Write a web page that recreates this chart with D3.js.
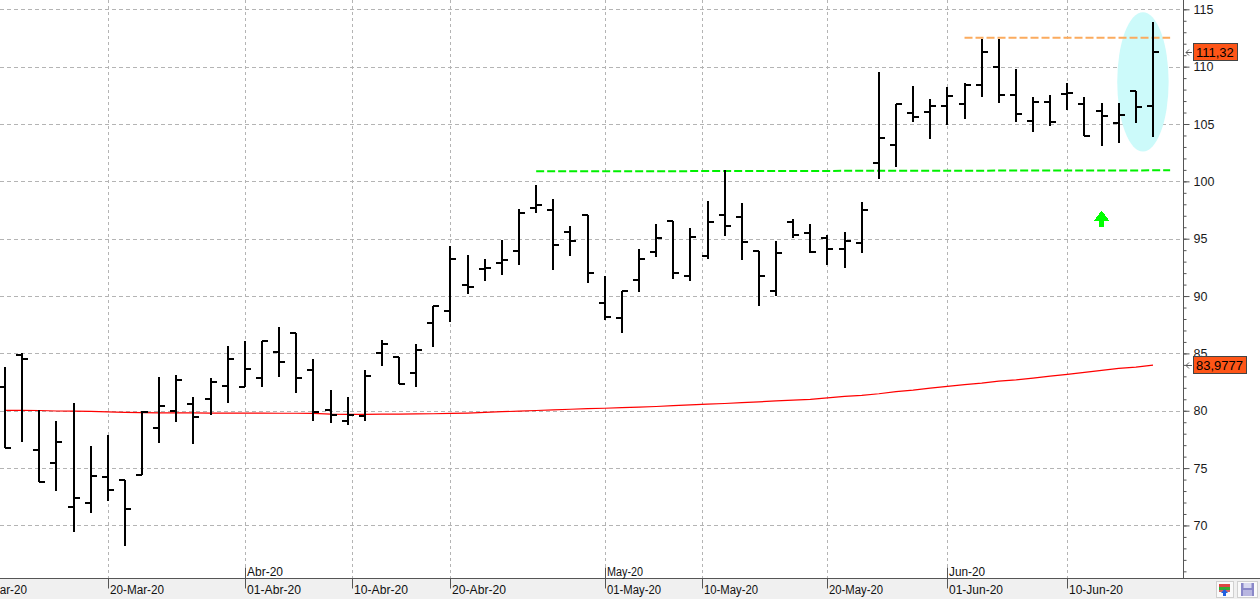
<!DOCTYPE html>
<html>
<head>
<meta charset="utf-8">
<script src="https://cdn.jsdelivr.net/npm/d3@7"></script>
<style>
  html, body { margin: 0; padding: 0; background: #fff; overflow: hidden; }
  svg { display: block; }
  text { font-family: "Liberation Sans", Arial, sans-serif; }
</style>
</head>
<body>
<div id="container"></div>
<script>
/* CONSTANTS AND GLOBALS */
const width = 1260,
      height = 599,
      axisX = 1183.5,   // price axis line
      axisY = 578.5;    // date axis line

/* DATA */
const dates = [
  "2020-03-12","2020-03-13","2020-03-16","2020-03-17","2020-03-18","2020-03-19","2020-03-20",
  "2020-03-23","2020-03-24","2020-03-25","2020-03-26","2020-03-27","2020-03-30","2020-03-31",
  "2020-04-01","2020-04-02","2020-04-03","2020-04-06","2020-04-07","2020-04-08","2020-04-09",
  "2020-04-13","2020-04-14","2020-04-15","2020-04-16","2020-04-17","2020-04-20","2020-04-21",
  "2020-04-22","2020-04-23","2020-04-24","2020-04-27","2020-04-28","2020-04-29","2020-04-30",
  "2020-05-01","2020-05-04","2020-05-05","2020-05-06","2020-05-07","2020-05-08","2020-05-11",
  "2020-05-12","2020-05-13","2020-05-14","2020-05-15","2020-05-18","2020-05-19","2020-05-20",
  "2020-05-21","2020-05-22","2020-05-26","2020-05-27","2020-05-28","2020-05-29","2020-06-01",
  "2020-06-02","2020-06-03","2020-06-04","2020-06-05","2020-06-08","2020-06-09","2020-06-10",
  "2020-06-11","2020-06-12","2020-06-15","2020-06-16","2020-06-17"
];

const open = [
  82.04, 84.90, 76.58, 75.42, 71.59, 71.93, 74.23, 73.94, 74.37, 78.47, 79.95, 80.56, 81.02, 82.13,
  82.04, 82.82, 85.09, 86.80, 83.53, 80.03, 79.08, 79.51, 85.06, 84.65, 83.26, 87.61, 88.74, 90.92,
  92.40, 92.92, 93.92, 97.71, 97.54, 95.56, 97.05, 89.36, 88.07, 91.38, 93.83, 96.58, 91.73, 93.53,
  97.05, 96.93, 93.94, 90.40, 96.49, 95.48, 95.05, 94.06, 94.60, 101.58, 103.15, 105.93, 106.01, 106.54,
  106.72, 108.38, 109.94, 107.50, 105.27, 106.89, 107.59, 106.72, 106.14, 105.07, 107.91, 106.54
];
const high = [
  83.78, 85.00, 80.06, 79.11, 80.70, 76.93, 77.89, 73.94, 80.01, 82.94, 83.11, 81.17, 82.82, 85.64,
  86.07, 86.07, 87.29, 86.80, 84.48, 81.81, 81.20, 83.53, 86.16, 84.65, 85.81, 89.15, 94.34, 93.56,
  93.21, 94.87, 97.63, 99.66, 98.50, 96.09, 97.05, 91.73, 90.40, 94.14, 96.26, 96.58, 95.97, 98.32,
  100.95, 98.15, 93.94, 94.78, 96.76, 96.32, 95.36, 95.56, 98.23, 109.54, 106.72, 108.32, 107.19, 108.20,
  108.55, 112.44, 112.44, 109.80, 107.33, 107.50, 108.55, 107.33, 106.80, 106.80, 107.91, 113.89
];
const low = [
  76.72, 77.31, 73.82, 73.04, 69.44, 71.12, 72.17, 68.25, 74.37, 77.22, 79.05, 77.13, 79.66, 80.70,
  82.04, 82.10, 82.97, 81.57, 79.13, 78.90, 78.79, 79.08, 83.93, 82.30, 82.10, 85.58, 87.76, 90.17,
  91.33, 91.85, 92.73, 97.25, 92.31, 93.50, 91.15, 87.87, 86.74, 90.37, 93.42, 91.53, 91.33, 93.24,
  95.25, 93.10, 89.15, 90.02, 95.02, 93.71, 92.69, 92.46, 93.71, 100.18, 101.29, 105.21, 103.73, 104.95,
  105.47, 107.39, 106.86, 105.18, 104.28, 104.86, 106.20, 103.93, 103.11, 103.37, 105.07, 103.85
];
const close = [
  76.72, 84.48, 73.82, 77.25, 72.37, 74.31, 73.07, 71.41, 79.89, 80.38, 82.68, 79.48, 82.50, 84.48,
  83.61, 86.07, 84.25, 82.82, 79.86, 79.60, 79.60, 83.03, 85.81, 82.36, 85.26, 89.12, 93.19, 90.75,
  92.48, 93.10, 97.28, 97.97, 94.49, 94.78, 92.05, 88.16, 90.40, 93.19, 95.02, 91.97, 95.19, 96.49,
  96.15, 94.69, 91.79, 93.71, 95.36, 93.88, 94.06, 94.84, 97.54, 103.76, 106.72, 105.58, 106.54, 107.41,
  108.38, 111.28, 107.50, 105.84, 106.89, 105.15, 107.68, 103.93, 105.67, 105.76, 106.45, 111.32
];
// moving average (red line)
const movingAvg = [
  80.03, 80.03, 80.02, 79.98, 79.97, 79.94, 79.90, 79.86, 79.83, 79.82, 79.81, 79.81, 79.80, 79.80,
  79.79, 79.79, 79.78, 79.78, 79.77, 79.71, 79.69, 79.69, 79.70, 79.70, 79.72, 79.74, 79.77, 79.80,
  79.86, 79.92, 79.96, 80.02, 80.08, 80.13, 80.18, 80.22, 80.27, 80.31, 80.37, 80.44, 80.51, 80.57,
  80.63, 80.70, 80.78, 80.86, 80.92, 80.99, 81.12, 81.25, 81.34, 81.48, 81.66, 81.80, 81.98, 82.13,
  82.27, 82.41, 82.59, 82.70, 82.85, 83.02, 83.17, 83.34, 83.52, 83.69, 83.81, 83.9777
];

const dayTicks = ["2020-03-10","2020-03-20","2020-04-01","2020-04-10","2020-04-20",
                  "2020-05-01","2020-05-10","2020-05-20","2020-06-01","2020-06-10"];
const monthTicks = ["2020-04-01","2020-05-01","2020-06-01"];
const priceTicks = d3.range(65, 116, 5);
const priceMinorTicks = d3.range(65, 116, 1);

// drawings on the chart
const supportLine = [["2020-04-27", 100.87], ["2020-06-18", 100.96]];
const resistLine = [["2020-06-02", 112.52], ["2020-06-18", 112.52]];
const highlight = { from: "2020-06-15", to: "2020-06-18", lo: 102.6, hi: 114.75 };
const upArrow = { date: "2020-06-12", value: 97.45 };

/* LOCALE */
const esTime = d3.timeFormatLocale({
  dateTime: "%x, %X", date: "%d/%m/%Y", time: "%H:%M:%S", periods: ["AM", "PM"],
  days: ["domingo","lunes","martes","miércoles","jueves","viernes","sábado"],
  shortDays: ["dom","lun","mar","mié","jue","vie","sáb"],
  months: ["enero","febrero","marzo","abril","mayo","junio","julio","agosto","septiembre","octubre","noviembre","diciembre"],
  shortMonths: ["Ene","Feb","Mar","Abr","May","Jun","Jul","Ago","Sep","Oct","Nov","Dic"]
});
const esNum = d3.formatLocale({ decimal: ",", thousands: ".", grouping: [3], currency: ["", " €"] });
const fmtDay = esTime.format("%d-%b-%y"),
      fmtMonth = esTime.format("%b-%y");

const parse = d3.utcParse("%Y-%m-%d");
const times = dates.map(d => d3.timeParse("%Y-%m-%d")(d));
const toDate = s => d3.timeParse("%Y-%m-%d")(s);

/* SCALES */
// trading day index -> pixels
const xScale = d3.scaleLinear().domain([0, dates.length - 1]).range([5, 1153]);
// calendar date -> (fractional) trading day index
const dayIndex = d3.scaleLinear().domain(times).range(d3.range(times.length));
const xDate = s => xScale(dayIndex(toDate(s)));
const yScale = d3.scaleLinear().domain([65, 115]).range([582.8, 9.3]);

const bars = dates.map((d, i) => ({
  i, date: d, o: open[i], h: high[i], l: low[i], c: close[i]
}));

/* SVG */
const svg = d3.select("#container")
  .append("svg")
  .attr("width", width)
  .attr("height", height);

svg.append("rect").attr("width", width).attr("height", height).attr("fill", "#fff");

const plot = svg.append("g");

/* GRID */
plot.append("g")
  .selectAll("line")
  .data(priceTicks)
  .join("line")
    .attr("x1", 0).attr("x2", axisX)
    .attr("y1", d => Math.round(yScale(d)) + 0.5)
    .attr("y2", d => Math.round(yScale(d)) + 0.5)
    .attr("stroke", "#b4b4b4")
    .attr("stroke-dasharray", "4,3")
    .attr("shape-rendering", "crispEdges");

plot.append("g")
  .selectAll("line")
  .data(dayTicks)
  .join("line")
    .attr("x1", d => Math.round(xDate(d)) + 0.5)
    .attr("x2", d => Math.round(xDate(d)) + 0.5)
    .attr("y1", 0).attr("y2", axisY)
    .attr("stroke", "#b4b4b4")
    .attr("stroke-dasharray", "3,3")
    .attr("shape-rendering", "crispEdges");

/* HIGHLIGHT ELLIPSE */
const ex0 = xDate(highlight.from), ex1 = xDate(highlight.to);
plot.append("ellipse")
  .attr("cx", (ex0 + ex1) / 2 - 1.5)
  .attr("cy", (yScale(highlight.lo) + yScale(highlight.hi)) / 2)
  .attr("rx", (ex1 - ex0) / 2)
  .attr("ry", (yScale(highlight.lo) - yScale(highlight.hi)) / 2)
  .attr("fill", "#ccfafa");

/* MOVING AVERAGE */
plot.append("path")
  .datum(movingAvg)
  .attr("fill", "none")
  .attr("stroke", "#ff0000")
  .attr("stroke-width", 1.2)
  .attr("d", d3.line().x((d, i) => xScale(i)).y(d => yScale(d)));

/* TREND LINES */
const segLine = d3.line().x(d => xDate(d[0])).y(d => yScale(d[1]));
plot.append("path")
  .datum(supportLine)
  .attr("fill", "none")
  .attr("stroke", "#00f000")
  .attr("stroke-width", 2)
  .attr("stroke-dasharray", "8,3")
  .attr("d", segLine);

plot.append("path")
  .datum(resistLine)
  .attr("fill", "none")
  .attr("stroke", "#fbab5e")
  .attr("stroke-width", 2)
  .attr("stroke-dasharray", "8,3")
  .attr("d", segLine);

/* OHLC BARS */
const px = v => Math.round(v);
const barG = plot.append("g")
  .attr("stroke", "#000")
  .attr("stroke-width", 2)
  .attr("shape-rendering", "crispEdges")
  .selectAll("g")
  .data(bars)
  .join("g");

barG.append("line")
  .attr("x1", d => px(xScale(d.i))).attr("x2", d => px(xScale(d.i)))
  .attr("y1", d => px(yScale(d.h))).attr("y2", d => px(yScale(d.l)));
barG.append("line")
  .attr("x1", d => px(xScale(d.i)) - 6).attr("x2", d => px(xScale(d.i)))
  .attr("y1", d => px(yScale(d.o))).attr("y2", d => px(yScale(d.o)));
barG.append("line")
  .attr("x1", d => px(xScale(d.i))).attr("x2", d => px(xScale(d.i)) + 6)
  .attr("y1", d => px(yScale(d.c))).attr("y2", d => px(yScale(d.c)));

/* GREEN ARROW */
const ax = xDate(upArrow.date), ay = yScale(upArrow.value);
plot.append("path")
  .attr("fill", "#00ff00")
  .attr("shape-rendering", "crispEdges")
  .attr("d", `M${ax},${ay} L${ax + 7.5},${ay + 10} H${ax + 2.5} V${ay + 16} H${ax - 2.5} V${ay + 10} H${ax - 7.5} Z`);

/* DATE AXIS */
const xAxisG = svg.append("g");
xAxisG.append("rect")
  .attr("x", 0).attr("y", axisY + 0.5)
  .attr("width", width).attr("height", height - axisY)
  .attr("fill", "#f0f0f0");
xAxisG.append("line")
  .attr("x1", 0).attr("x2", width)
  .attr("y1", axisY).attr("y2", axisY)
  .attr("stroke", "#555");

const dayTick = xAxisG.selectAll(".dayTick")
  .data(dayTicks)
  .join("g")
    .attr("class", "dayTick")
    .attr("transform", d => `translate(${Math.round(xDate(d)) + 0.5},0)`);
dayTick.append("line")
  .attr("y1", axisY).attr("y2", axisY + 10)
  .attr("stroke", "#555");
dayTick.append("text")
  .attr("x", 1.5).attr("y", 594)
  .attr("font-size", 12.5)
  .attr("textLength", 54)
  .attr("lengthAdjust", "spacingAndGlyphs")
  .attr("fill", "#111")
  .text(d => fmtDay(toDate(d)));

const monthTick = xAxisG.selectAll(".monthTick")
  .data(monthTicks)
  .join("g")
    .attr("class", "monthTick")
    .attr("transform", d => `translate(${Math.round(xDate(d)) + 0.5},0)`);
monthTick.append("line")
  .attr("y1", axisY - 11).attr("y2", axisY)
  .attr("stroke", "#555");
monthTick.append("text")
  .attr("x", 1.5).attr("y", 576)
  .attr("font-size", 12.5)
  .attr("textLength", 36)
  .attr("lengthAdjust", "spacingAndGlyphs")
  .attr("fill", "#111")
  .text(d => fmtMonth(toDate(d)));

/* PRICE AXIS */
const yAxisG = svg.append("g");
yAxisG.append("rect")
  .attr("x", axisX).attr("y", 0)
  .attr("width", width - axisX).attr("height", axisY)
  .attr("fill", "#fff");

yAxisG.append("g")
  .attr("transform", `translate(${axisX},0)`)
  .call(d3.axisRight(yScale).tickValues(priceMinorTicks).tickSize(3).tickFormat(""))
  .call(g => g.select(".domain").remove())
  .call(g => g.selectAll("line").attr("stroke", "#555"));

yAxisG.append("g")
  .attr("transform", `translate(${axisX},0)`)
  .call(d3.axisRight(yScale).tickValues(priceTicks).tickSize(6).tickPadding(4))
  .call(g => g.select(".domain").remove())
  .call(g => g.selectAll("line").attr("stroke", "#555"))
  .call(g => g.selectAll("text")
    .attr("font-family", "'Liberation Sans', Arial, sans-serif")
    .attr("font-size", 12.5)
    .attr("fill", "#1a1a1a"));

yAxisG.append("line")
  .attr("x1", axisX).attr("x2", axisX)
  .attr("y1", 0).attr("y2", axisY)
  .attr("stroke", "#555");

// band covers the cut-off lowest label
svg.append("rect")
  .attr("x", axisX - 0.5).attr("y", axisY + 0.5)
  .attr("width", width - axisX).attr("height", height - axisY)
  .attr("fill", "#f0f0f0");
svg.append("line")
  .attr("x1", axisX - 1).attr("x2", width)
  .attr("y1", axisY).attr("y2", axisY)
  .attr("stroke", "#555");

/* LAST VALUE LABELS */
const lastLabels = [
  { value: close[close.length - 1], text: esNum.format(".2f")(close[close.length - 1]) },
  { value: movingAvg[movingAvg.length - 1], text: esNum.format(".4f")(movingAvg[movingAvg.length - 1]) }
];
const lab = svg.append("g")
  .selectAll("g")
  .data(lastLabels)
  .join("g")
    .attr("transform", d => `translate(0,${Math.round(yScale(d.value))})`);

lab.append("path")
  .attr("fill", "none")
  .attr("stroke", "#555")
  .attr("d", "M1186,0.5 H1192 M1189,-2.5 L1186,0.5 L1189,3.5");

const labText = lab.append("text")
  .attr("x", 1196).attr("y", 5)
  .attr("font-size", 13)
  .attr("fill", "#000")
  .text(d => d.text);

lab.insert("rect", "text")
  .attr("x", 1193.5).attr("y", -8.5)
  .attr("height", 17)
  .attr("width", function () {
    const t = d3.select(this.parentNode).select("text").node();
    return Math.round(t.getComputedTextLength()) + 6;
  })
  .attr("fill", "#fe5517")
  .attr("stroke", "#444");

/* TOOLBAR ICONS */
const icons = svg.append("g");
icons.append("rect")
  .attr("x", 1216.5).attr("y", 581.5).attr("width", 17).attr("height", 16)
  .attr("fill", "#fafafa").attr("stroke", "#d0d0d0");
icons.append("rect").attr("x", 1219).attr("y", 584).attr("width", 11).attr("height", 3).attr("fill", "#d44");
icons.append("rect").attr("x", 1219).attr("y", 587).attr("width", 11).attr("height", 3).attr("fill", "#3a3");
icons.append("rect").attr("x", 1219).attr("y", 590).attr("width", 11).attr("height", 2).attr("fill", "#c66");
icons.append("path").attr("d", "M1224.5,589 L1228,593 H1226 V596 H1223 V593 H1221 Z").attr("fill", "#1f5fe0");

icons.append("rect")
  .attr("x", 1237.5).attr("y", 581.5).attr("width", 20).attr("height", 16)
  .attr("fill", "#fafafa").attr("stroke", "#d0d0d0");
icons.append("rect").attr("x", 1241).attr("y", 583).attr("width", 13).attr("height", 13).attr("fill", "#8a88c8");
icons.append("rect").attr("x", 1243.5).attr("y", 583).attr("width", 8).attr("height", 5).attr("fill", "#d8d8f0");
icons.append("rect").attr("x", 1243).attr("y", 590).attr("width", 9).attr("height", 6).attr("fill", "#b8b6e0");
</script>
</body>
</html>
